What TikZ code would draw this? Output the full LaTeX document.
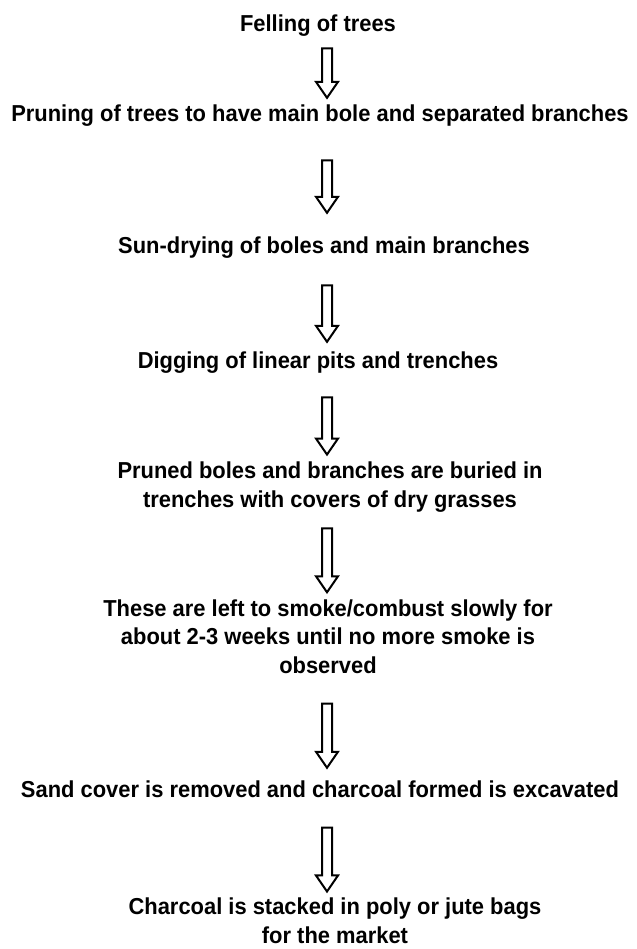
\documentclass[tikz,border=0pt]{standalone}
\usepackage{fontspec}
\setmainfont{Liberation Sans}[FakeStretch=0.95]
\usetikzlibrary{calc}

% x position of the arrows, and the gaps round each arrow
\def\arrowx{245.25pt}
\tikzset{
    gap top/.store in=\gaptop, gap top=20pt,
    gap bot/.store in=\gapbot, gap bot=5pt
}

\begin{document}
\begin{tikzpicture}[
    x=0.75pt, y=-0.75pt,
    every node/.style={align=center},
    steptext/.style={anchor=base, inner sep=0pt, font=\bfseries\fontsize{17.3}{21.2}\selectfont},
    hollow/.style={draw=black, line width=1.5pt, line join=miter, to path={
        let \p1=($(\tikztostart.south)+(0,-\gaptop)$), \p2=($(\tikztotarget.north)+(0,\gapbot)$) in
        (\arrowx-3.75pt,\y1) -- (\arrowx+3.75pt,\y1) -- (\arrowx+3.75pt,\y2+12pt)
        -- (\arrowx+8.25pt,\y2+12pt) -- (\arrowx,\y2) -- (\arrowx-8.25pt,\y2+12pt)
        -- (\arrowx-3.75pt,\y2+12pt) -- cycle}}
]
    \useasboundingbox (0,0) rectangle (636,949);

    % Steps, top to bottom (anchored at the last baseline)
    \node[steptext] (felling) at (318,32) {Felling of trees};
    \node[steptext] (pruning) at (320,122) {Pruning of trees to have main bole and separated branches};
    \node[steptext] (sundry) at (324,253) {Sun-drying of boles and main branches};
    \node[steptext] (digging) at (318,368) {Digging of linear pits and trenches};
    \node[steptext] (buried) at (330,507) {Pruned boles and branches are buried in\\ trenches with covers of dry grasses};
    \node[steptext] (smoke) at (328,673) {These are left to smoke/combust slowly for\\ about 2-3 weeks until no more smoke is\\ observed};
    \node[steptext] (sand) at (320,797) {Sand cover is removed and charcoal formed is excavated};
    \node[steptext] (bags) at (335,943) {Charcoal is stacked in poly or jute bags\\ for the market};

    % Hollow arrows
    \draw[hollow, gap top=8.4pt, gap bot=5.4pt] (felling) to (pruning);
    \draw[hollow, gap top=24.9pt, gap bot=17.4pt] (pruning) to (sundry);
    \draw[hollow, gap top=20.4pt, gap bot=6.9pt] (sundry) to (digging);
    \draw[hollow, gap top=18.2pt, gap bot=5.4pt] (digging) to (buried);
    \draw[hollow, gap top=12.2pt, gap bot=5.4pt] (buried) to (smoke);
    \draw[hollow, gap top=22.5pt, gap bot=9.2pt] (smoke) to (sand);
    \draw[hollow, gap top=22.5pt, gap bot=4.7pt] (sand) to (bags);

\end{tikzpicture}
\end{document}
